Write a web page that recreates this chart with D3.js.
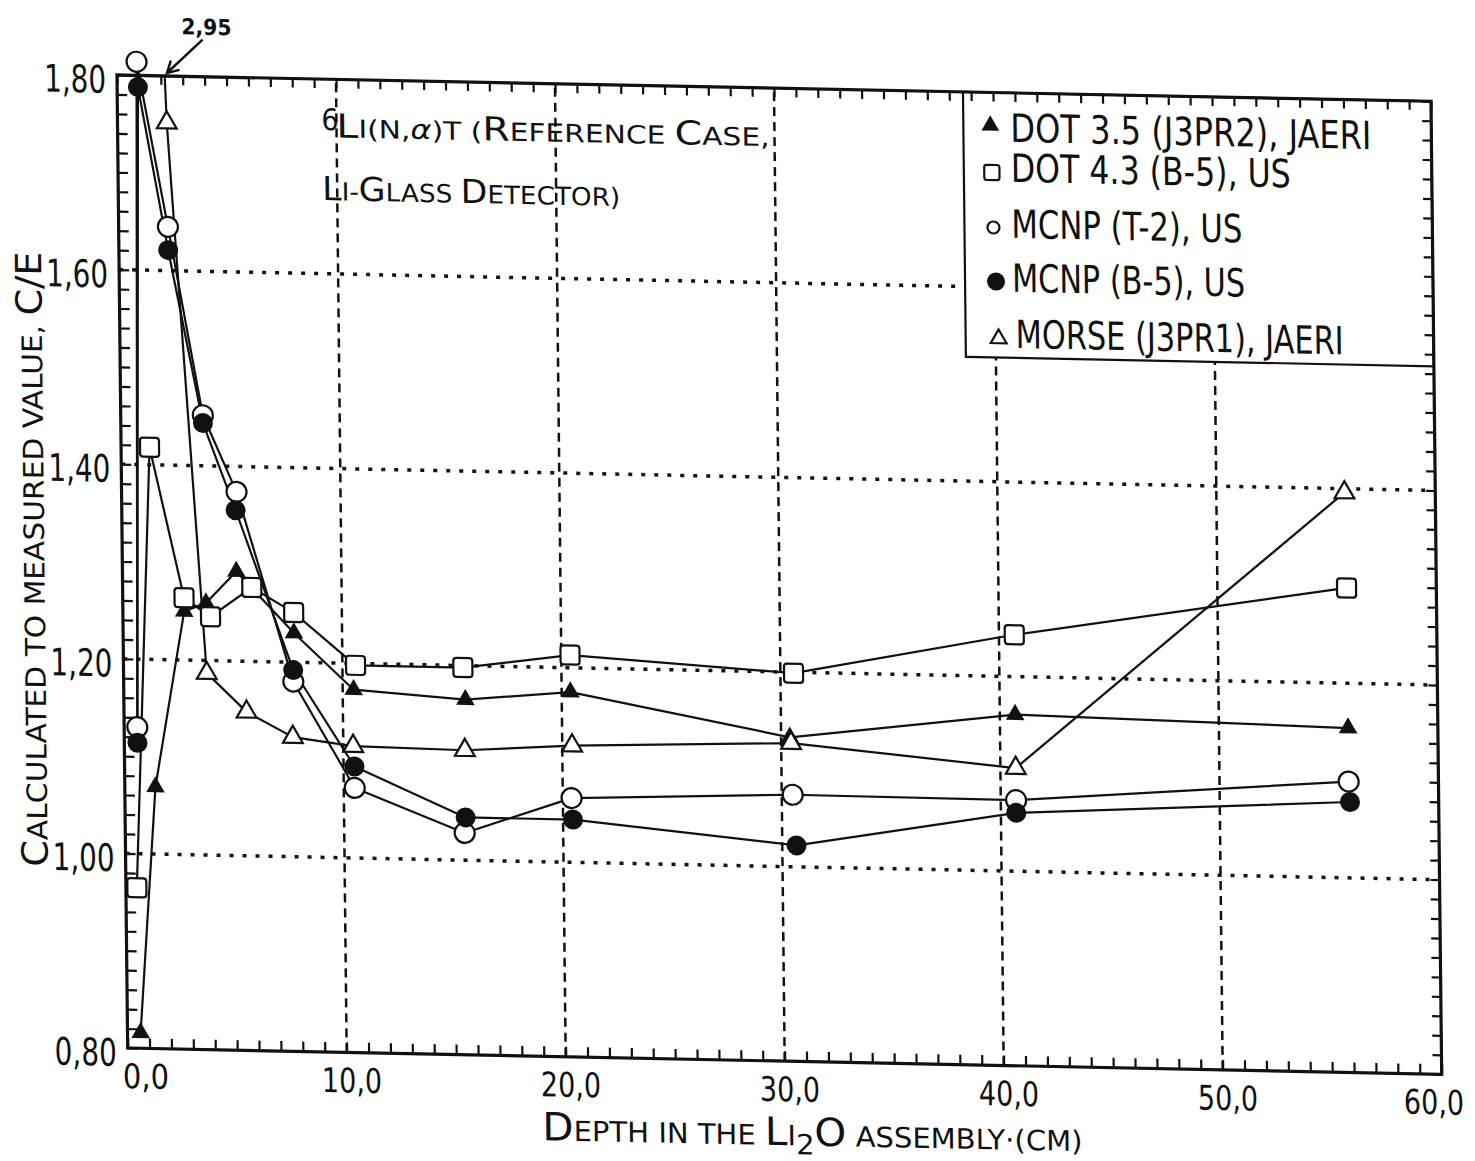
<!DOCTYPE html>
<html><head><meta charset="utf-8">
<script src="https://cdn.jsdelivr.net/npm/d3@7"></script>
<style>
html,body{margin:0;padding:0;background:#fff;}
svg{display:block;}
text{font-family:"Liberation Sans Narrow","DejaVu Sans Condensed","Roboto Condensed","Liberation Sans",Arial,sans-serif;fill:#111;}
</style></head><body>
<svg id="chart" width="1475" height="1161"></svg>
<script>
// ---- data (depth in cm, C/E ratio) ----
const dot35Depth = [0.6, 1.4, 2.8, 3.8, 5.2, 7.8, 10.5, 15.6, 20.4, 30.4, 40.7, 55.9];
const dot35CE    = [0.816, 1.069, 1.250, 1.259, 1.292, 1.230, 1.173, 1.165, 1.175, 1.133, 1.161, 1.154];
const dot43Depth = [0.5, 1.3, 2.8, 4.0, 5.9, 7.8, 10.6, 15.5, 20.4, 30.6, 40.7, 55.9];
const dot43CE    = [0.965, 1.418, 1.264, 1.245, 1.276, 1.251, 1.198, 1.198, 1.213, 1.199, 1.243, 1.298];
const mcnpT2Depth = [0.6, 0.9, 2.25, 3.75, 5.25, 7.75, 10.5, 15.5, 20.4, 30.5, 40.7, 55.9];
const mcnpT2CE    = [1.130, 1.814, 1.645, 1.452, 1.374, 1.180, 1.072, 1.028, 1.066, 1.074, 1.073, 1.099];
const mcnpB5Depth = [0.6, 0.95, 2.25, 3.75, 5.2, 7.75, 10.5, 15.55, 20.45, 30.65, 40.7, 55.95];
const mcnpB5CE    = [1.114, 1.788, 1.621, 1.444, 1.355, 1.192, 1.094, 1.044, 1.044, 1.022, 1.060, 1.078];
const morseDepth = [0.5, 2.25, 3.8, 5.6, 7.7, 10.45, 15.55, 20.45, 30.45, 40.7, 55.85];
const morseCE    = [2.95, 1.752, 1.187, 1.148, 1.123, 1.115, 1.113, 1.120, 1.127, 1.106, 1.396];

const legendLabels = ["DOT 3.5 (J3PR2), JAERI", "DOT 4.3 (B-5), US", "MCNP (T-2), US", "MCNP (B-5), US", "MORSE (J3PR1), JAERI"];
const xTickLabels = [0, 10, 20, 30, 40, 50, 60];
const yTickLabels = [0.8, 1.0, 1.2, 1.4, 1.6, 1.8];
const xGridValues = [10, 20, 30, 40, 50];
const yGridValues = [1.0, 1.2, 1.4, 1.6];
const offChartLabel = "2,95";

// ---- setup ----
const svg = d3.select("#chart");
svg.append("rect").attr("width", 1475).attr("height", 1161).attr("fill", "#fff");
// slight skew imitating the scanned page
const g = svg.append("g").attr("transform", "matrix(1,0.02,0.011,1,-0.85,-2.34)");

const x = d3.scaleLinear().domain([0, 60]).range([117, 1431]);
const y = d3.scaleLinear().domain([0.8, 1.8]).range([1048, 75]);
const comma = (d, p) => d.toFixed(p).replace(".", ",");

g.append("defs").append("clipPath").attr("id", "plotclip")
  .append("rect").attr("x", x(0)).attr("y", y(1.8)).attr("width", x(60) - x(0)).attr("height", y(0.8) - y(1.8));

// ---- grid ----
g.append("g").selectAll("line").data(yGridValues).join("line")
  .attr("x1", x(0)).attr("x2", x(60)).attr("y1", d => y(d)).attr("y2", d => y(d))
  .attr("stroke", "#111").attr("stroke-width", 3.5).attr("stroke-dasharray", "4,9");
g.append("g").selectAll("line").data(xGridValues).join("line")
  .attr("x1", d => x(d)).attr("x2", d => x(d)).attr("y1", y(0.8)).attr("y2", y(1.8))
  .attr("stroke", "#111").attr("stroke-width", 2.5).attr("stroke-dasharray", "9,6");

// ---- legend box (covers grid) ----
const legX0 = 963, legY1 = 340;
g.append("rect").attr("x", legX0).attr("y", y(1.8)).attr("width", x(60) - legX0).attr("height", legY1 - y(1.8))
  .attr("fill", "#fff").attr("stroke", "#111").attr("stroke-width", 2.2);

// ---- axes ticks ----
const ticksX = d3.range(0, 61, 1);
const ticksY = d3.range(0, 51).map(i => +(0.8 + i * 0.02).toFixed(2));
function styleAxis(sel) {
  sel.select(".domain").remove();
  sel.selectAll(".tick line").attr("stroke", "#111").attr("stroke-width", 2.2);
  sel.selectAll(".tick text").remove();
}
g.append("g").attr("transform", `translate(0,${y(0.8)})`)
  .call(d3.axisBottom(x).tickValues(ticksX).tickSizeInner(-10).tickSizeOuter(0)).call(styleAxis);
g.append("g").attr("transform", `translate(0,${y(1.8)})`)
  .call(d3.axisTop(x).tickValues(ticksX).tickSizeInner(-9).tickSizeOuter(0)).call(styleAxis);
g.append("g").attr("transform", `translate(${x(0)},0)`)
  .call(d3.axisLeft(y).tickValues(ticksY).tickSizeInner(-10).tickSizeOuter(0)).call(styleAxis);
g.append("g").attr("transform", `translate(${x(60)},0)`)
  .call(d3.axisRight(y).tickValues(ticksY).tickSizeInner(-9).tickSizeOuter(0)).call(styleAxis);

// frame
g.append("rect").attr("x", x(0)).attr("y", y(1.8)).attr("width", x(60) - x(0)).attr("height", y(0.8) - y(1.8))
  .attr("fill", "none").attr("stroke", "#111").attr("stroke-width", 3.2);

// tick labels
g.append("g").selectAll("text").data(xTickLabels).join("text")
  .attr("x", d => d === 0 ? x(d) + 18 : (d === 60 ? x(d) - 8 : x(d) + 5)).attr("y", 1088)
  .attr("text-anchor", "middle").attr("font-size", 34)
  .attr("textLength", d => d === 0 ? 46 : 60).attr("lengthAdjust", "spacingAndGlyphs")
  .text(d => comma(d, 1));
g.append("g").selectAll("text").data(yTickLabels).join("text")
  .attr("x", 106).attr("y", d => y(d) + 18)
  .attr("text-anchor", "end").attr("font-size", 38)
  .attr("textLength", 62).attr("lengthAdjust", "spacingAndGlyphs")
  .text(d => comma(d, 2));

// axis titles
const yt = g.append("text").attr("transform", "translate(39,561) rotate(-90)")
  .attr("text-anchor", "middle").attr("textLength", 615).attr("lengthAdjust", "spacingAndGlyphs");
yt.append("tspan").attr("font-size", 36).text("C");
yt.append("tspan").attr("font-size", 28).text("ALCULATED TO MEASURED VALUE, ");
yt.append("tspan").attr("font-size", 36).text("C/E");

const xt = g.append("text").attr("x", 531).attr("y", 1132)
  .attr("textLength", 540).attr("lengthAdjust", "spacingAndGlyphs");
xt.append("tspan").attr("font-size", 39).text("D");
xt.append("tspan").attr("font-size", 28).text("EPTH IN THE ");
xt.append("tspan").attr("font-size", 39).text("L");
xt.append("tspan").attr("font-size", 28).text("I");
xt.append("tspan").attr("font-size", 28).attr("dy", 9).text("2");
xt.append("tspan").attr("font-size", 39).attr("dy", -9).text("O");
xt.append("tspan").attr("font-size", 28).text(" ASSEMBLY·(CM)");

// annotation
g.append("text").attr("x", 321).attr("y", 126).attr("font-size", 30).text("6");
const a1 = g.append("text").attr("x", 336).attr("y", 133)
  .attr("textLength", 433).attr("lengthAdjust", "spacingAndGlyphs");
a1.append("tspan").attr("font-size", 33).text("L");
a1.append("tspan").attr("font-size", 25).text("I(N,");
a1.append("tspan").attr("font-size", 27).attr("font-style", "italic").text("α");
a1.append("tspan").attr("font-size", 25).text(")T (");
a1.append("tspan").attr("font-size", 33).text("R");
a1.append("tspan").attr("font-size", 25).text("EFERENCE ");
a1.append("tspan").attr("font-size", 33).text("C");
a1.append("tspan").attr("font-size", 25).text("ASE,");
const a2 = g.append("text").attr("x", 321).attr("y", 196)
  .attr("textLength", 298).attr("lengthAdjust", "spacingAndGlyphs");
a2.append("tspan").attr("font-size", 33).text("L");
a2.append("tspan").attr("font-size", 25).text("I-");
a2.append("tspan").attr("font-size", 33).text("G");
a2.append("tspan").attr("font-size", 25).text("LASS ");
a2.append("tspan").attr("font-size", 33).text("D");
a2.append("tspan").attr("font-size", 25).text("ETECTOR)");

// off-scale note with arrow
g.append("text").attr("x", 182).attr("y", 33).attr("font-size", 22).attr("font-weight", "bold")
  .attr("textLength", 50).attr("lengthAdjust", "spacingAndGlyphs").text(offChartLabel);
const tip = [167, 72], tail = [203, 38];
g.append("line").attr("x1", tail[0]).attr("y1", tail[1]).attr("x2", tip[0]).attr("y2", tip[1])
  .attr("stroke", "#111").attr("stroke-width", 2.4);
{
  const dx = tail[0] - tip[0], dy = tail[1] - tip[1], L = Math.hypot(dx, dy);
  const ux = dx / L, uy = dy / L, h = 13, ang = 0.5;
  const p1 = [tip[0] + h * (ux * Math.cos(ang) - uy * Math.sin(ang)), tip[1] + h * (ux * Math.sin(ang) + uy * Math.cos(ang))];
  const p2 = [tip[0] + h * (ux * Math.cos(-ang) - uy * Math.sin(-ang)), tip[1] + h * (ux * Math.sin(-ang) + uy * Math.cos(-ang))];
  g.append("path").attr("d", `M${p1}L${tip}L${p2}`).attr("fill", "none").attr("stroke", "#111").attr("stroke-width", 2.4);
}

// ---- series ----
const series = [
  {depth: dot35Depth, ce: dot35CE, marker: "triFill"},
  {depth: dot43Depth, ce: dot43CE, marker: "square"},
  {depth: mcnpT2Depth, ce: mcnpT2CE, marker: "circle"},
  {depth: mcnpB5Depth, ce: mcnpB5CE, marker: "circleFill"},
  {depth: morseDepth, ce: morseCE, marker: "triOpen"}
];
const line = d3.line().x(d => x(d[0])).y(d => y(d[1]));
series.forEach(s => {
  const pts = s.depth.map((d, i) => [d, s.ce[i]]);
  const p = g.append("path").attr("d", line(pts)).attr("fill", "none")
    .attr("stroke", "#111").attr("stroke-width", 2.2).attr("stroke-linejoin", "round");
  if (s.marker === "triOpen") p.attr("clip-path", "url(#plotclip)");
});

function drawMarker(sel, type, cx, cy, scale) {
  const k = scale || 1;
  if (type === "circle") {
    sel.append("circle").attr("cx", cx).attr("cy", cy).attr("r", 10 * k)
      .attr("fill", "#fff").attr("stroke", "#111").attr("stroke-width", 2.2);
  } else if (type === "circleFill") {
    sel.append("circle").attr("cx", cx).attr("cy", cy).attr("r", 10 * k).attr("fill", "#111");
  } else if (type === "square") {
    const w = 19 * k;
    sel.append("rect").attr("x", cx - w / 2).attr("y", cy - w / 2).attr("width", w).attr("height", w).attr("rx", 3 * k)
      .attr("fill", "#fff").attr("stroke", "#111").attr("stroke-width", 2.2);
  } else if (type === "triFill") {
    sel.append("path").attr("transform", `translate(${cx},${cy})`)
      .attr("d", d3.symbol(d3.symbolTriangle, 150 * k * k)()).attr("fill", "#111");
  } else if (type === "triOpen") {
    sel.append("path").attr("transform", `translate(${cx},${cy})`)
      .attr("d", d3.symbol(d3.symbolTriangle, 170 * k * k)())
      .attr("fill", "#fff").attr("stroke", "#111").attr("stroke-width", 2.2);
  }
}
const mk = g.append("g");
series.forEach(s => {
  s.depth.forEach((d, i) => {
    const v = s.ce[i];
    if (v > 1.85) return; // off-scale point (shown by arrow)
    drawMarker(mk, s.marker, x(d), y(v));
  });
});

// ---- legend entries ----
const legMarkerPos = [[990, 108], [991, 155], [992, 210], [994, 264], [996, 321]];
const legMarkerScale = [0.95, 0.8, 0.6, 0.9, 0.8];
const legTextY = [124, 164, 220, 274, 330];
const legTextX = [1010, 1010, 1010, 1010, 1013];
const legTextW = [361, 280, 231, 233, 328];
const lg = g.append("g");
series.forEach((s, i) => {
  drawMarker(lg, s.marker, legMarkerPos[i][0], legMarkerPos[i][1], legMarkerScale[i]);
  lg.append("text").attr("x", legTextX[i]).attr("y", legTextY[i]).attr("font-size", 39)
    .attr("textLength", legTextW[i]).attr("lengthAdjust", "spacingAndGlyphs").text(legendLabels[i]);
});
</script>
</body></html>
